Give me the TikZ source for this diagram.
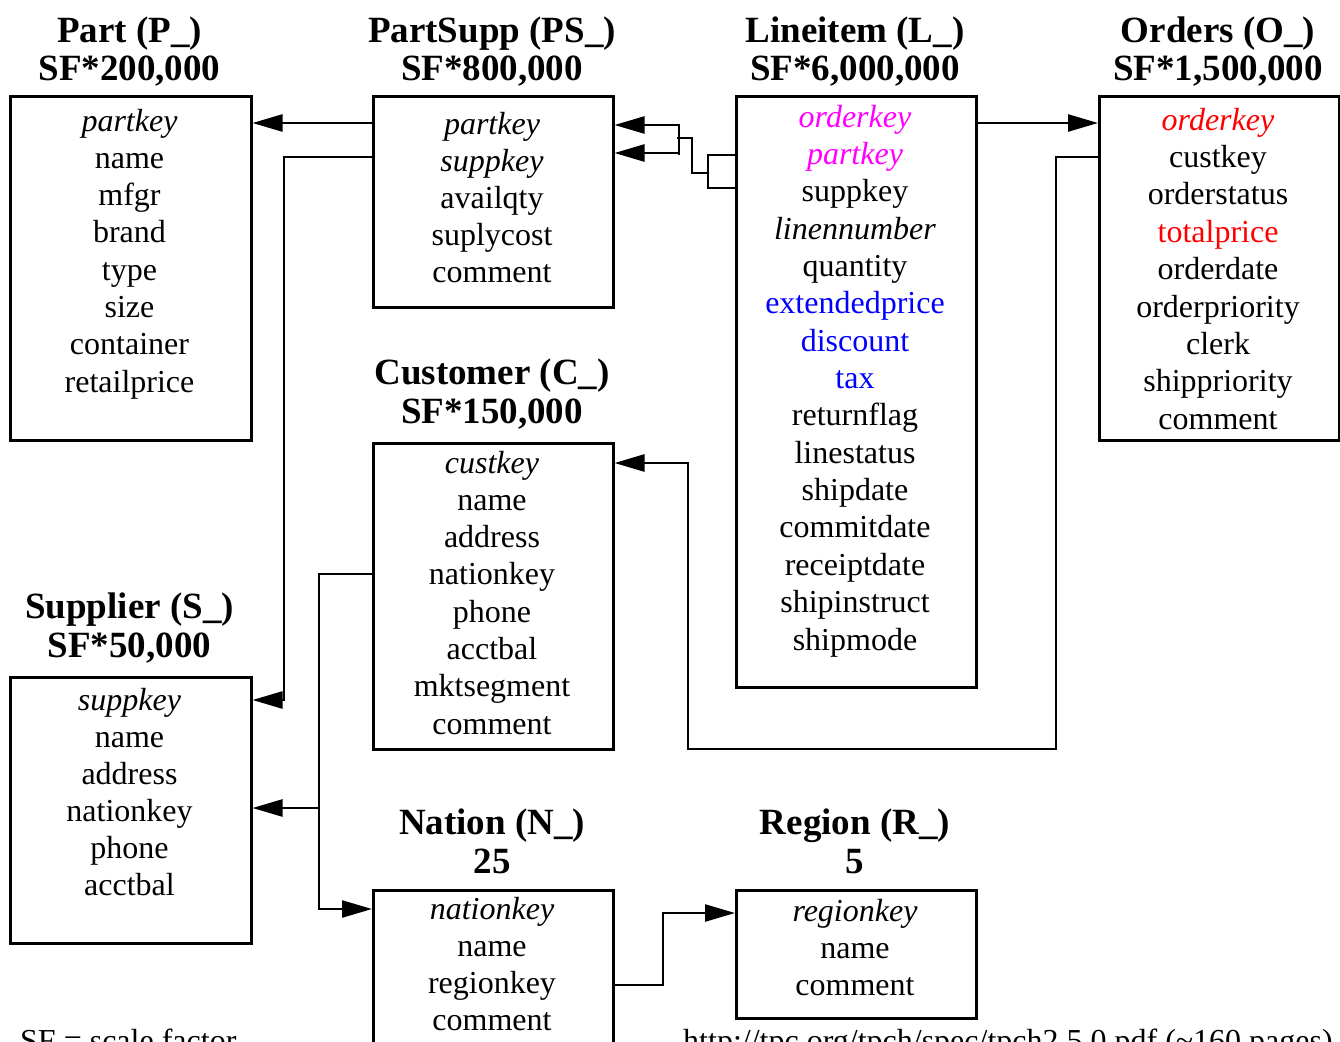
\documentclass[tikz,border=0pt]{standalone}
\usepackage{fontspec}
\setmainfont{Liberation Serif}
\usetikzlibrary{arrows.meta}
\definecolor{mag}{RGB}{255,0,255}
\definecolor{blu}{RGB}{0,0,255}
\definecolor{rd}{RGB}{255,0,0}
\begin{document}
\begin{tikzpicture}[x=1pt,y=-1pt,
  box/.style={draw, line width=2.5pt, inner sep=0pt, anchor=north west},
  fld/.style={font=\fontsize{32}{37}\selectfont, inner sep=0pt, anchor=base, text height=22pt, text depth=7pt},
  ttl/.style={font=\fontsize{37}{40}\selectfont\bfseries, inner sep=0pt, anchor=base},
  conn/.style={line width=2.5pt},
  arr/.style={conn, -{Triangle[length=30pt,width=17pt]}}]
\useasboundingbox (0,0) rectangle (1340,1041);

% boxes
\node[box, minimum width=241pt, minimum height=344pt] (part) at (9,95) {};
\node[box, minimum width=240pt, minimum height=211pt] (ps) at (372,95) {};
\node[box, minimum width=240pt, minimum height=591pt] (li) at (735,95) {};
\node[box, minimum width=240pt, minimum height=344pt] (ord) at (1098,95) {};
\node[box, minimum width=240pt, minimum height=306pt] (cust) at (372,442) {};
\node[box, minimum width=241pt, minimum height=266pt] (sup) at (9,676) {};
\node[box, minimum width=240pt, minimum height=220pt] (nat) at (372,889) {};
\node[box, minimum width=240pt, minimum height=128pt] (reg) at (735,889) {};

% titles
\node[ttl] (part-t1) at (129.5,42) {Part (P\_)};
\node[ttl] (part-t2) at (129.5,80) {SF*200,000};
\node[ttl] (ps-t1) at (492,42) {PartSupp (PS\_)};
\node[ttl] (ps-t2) at (492,80) {SF*800,000};
\node[ttl] (li-t1) at (855,42) {Lineitem (L\_)};
\node[ttl] (li-t2) at (855,80) {SF*6,000,000};
\node[ttl] (ord-t1) at (1218,42) {Orders (O\_)};
\node[ttl] (ord-t2) at (1218,80) {SF*1,500,000};
\node[ttl] (cust-t1) at (492,384) {Customer (C\_)};
\node[ttl] (cust-t2) at (492,423) {SF*150,000};
\node[ttl] (sup-t1) at (129.5,618) {Supplier (S\_)};
\node[ttl] (sup-t2) at (129.5,657) {SF*50,000};
\node[ttl] (nat-t1) at (492,834) {Nation (N\_)};
\node[ttl] (nat-t2) at (492,873) {25};
\node[ttl] (reg-t1) at (855,834) {Region (R\_)};
\node[ttl] (reg-t2) at (855,873) {5};

% fields
\foreach [count=\i] \t in {{\textit{partkey}},name,mfgr,brand,type,size,container,retailprice}
  \node[fld] (part-\i) at (129.5,{131+37.3*(\i-1)}) {\t};
\foreach [count=\i] \t in {{\textit{partkey}},{\textit{suppkey}},availqty,suplycost,comment}
  \node[fld] (ps-\i) at (492,{134+37.1*(\i-1)}) {\t};
\foreach [count=\i] \t in {{\textcolor{mag}{\textit{orderkey}}},{\textcolor{mag}{\textit{partkey}}},suppkey,{\textit{linennumber}},quantity,{\textcolor{blu}{extendedprice}},{\textcolor{blu}{discount}},{\textcolor{blu}{tax}},returnflag,linestatus,shipdate,commitdate,receiptdate,shipinstruct,shipmode}
  \node[fld] (li-\i) at (855,{127+37.36*(\i-1)}) {\t};
\foreach [count=\i] \t in {{\textcolor{rd}{\textit{orderkey}}},custkey,orderstatus,{\textcolor{rd}{totalprice}},orderdate,orderpriority,clerk,shippriority,comment}
  \node[fld] (ord-\i) at (1218,{130+37.4*(\i-1)}) {\t};
\foreach [count=\i] \t in {{\textit{custkey}},name,address,nationkey,phone,acctbal,mktsegment,comment}
  \node[fld] (cust-\i) at (492,{473+37.3*(\i-1)}) {\t};
\foreach [count=\i] \t in {{\textit{suppkey}},name,address,nationkey,phone,acctbal}
  \node[fld] (sup-\i) at (129.5,{710+37*(\i-1)}) {\t};
\foreach [count=\i] \t in {{\textit{nationkey}},name,regionkey,comment}
  \node[fld] (nat-\i) at (492,{919+37.3*(\i-1)}) {\t};
\foreach [count=\i] \t in {{\textit{regionkey}},name,comment}
  \node[fld] (reg-\i) at (855,{921+37.3*(\i-1)}) {\t};

% footer
\node[fld, anchor=base west] (sf) at (20,1051) {SF = scale factor};
\node[fld, anchor=base west] (url) at (683,1051) {http://tpc.org/tpch/spec/tpch2.5.0.pdf (\textasciitilde160 pages)};

% connectors
\draw[arr] (ps.west |- 0,123) -- (part.east |- 0,123);
\draw[arr] (ps.west |- 0,157) -| (284,700) -- (sup.east |- 0,700);
\draw[conn] (li.west |- 0,155) -- (708,155) -- (708,188) -- (li.west |- 0,188);
\draw[conn] (708,173) -- (692,173) -- (692,138) -- (677,138);
\draw[conn] (679,124) -- (679,155);
\draw[arr] (679,125) -- (ps.east |- 0,125);
\draw[arr] (679,153) -- (ps.east |- 0,153);
\draw[arr] (li.east |- 0,123) -- (ord.west |- 0,123);
\draw[arr] (ord.west |- 0,157) -| (1056,749) -| (688,463) -- (cust.east |- 0,463);
\draw[arr] (cust.west |- 0,574) -| (319,909) -- (nat.west |- 0,909);
\draw[arr] (319,808) -- (sup.east |- 0,808);
\draw[arr] (nat.east |- 0,985) -| (663,913) -- (reg.west |- 0,913);
\end{tikzpicture}
\end{document}
